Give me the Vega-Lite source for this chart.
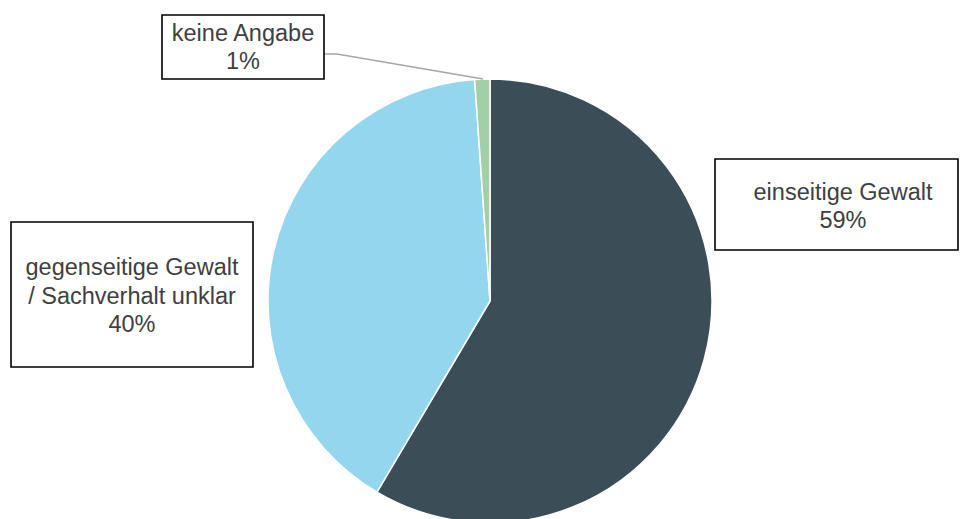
{
  "$schema": "https://vega.github.io/schema/vega-lite/v6.json",
  "width": 960,
  "height": 519,
  "autosize": "none",
  "padding": 0,
  "background": "white",
  "config": {"view": {"stroke": null}},
  "data": {
    "values": [
      {"category": "einseitige Gewalt", "value": 58.5, "label": "einseitige Gewalt\n59%"},
      {"category": "gegenseitige Gewalt / Sachverhalt unklar", "value": 40.4, "label": "gegenseitige Gewalt\n/ Sachverhalt unklar\n40%"},
      {"category": "keine Angabe", "value": 1.1, "label": "keine Angabe\n1%"}
    ]
  },
  "layer": [
    {
      "mark": {"type": "arc", "outerRadius": 222, "x": 490, "y": 301, "stroke": "white", "strokeWidth": 1.5},
      "encoding": {
        "theta": {"field": "value", "type": "quantitative", "stack": true},
        "color": {
          "field": "category",
          "type": "nominal",
          "scale": {
            "domain": ["einseitige Gewalt", "gegenseitige Gewalt / Sachverhalt unklar", "keine Angabe"],
            "range": ["#3b4e58", "#95d6ef", "#a3cfa6"]
          },
          "legend": null
        }
      }
    },
    {
      "mark": {"type": "rule", "stroke": "#a6a6a6", "strokeWidth": 1.5},
      "transform": [{"filter": "datum.category === 'keine Angabe'"}],
      "encoding": {"x": {"value": 324}, "y": {"value": 54}, "x2": {"value": 337}, "y2": {"value": 54}}
    },
    {
      "mark": {"type": "rule", "stroke": "#a6a6a6", "strokeWidth": 1.5},
      "transform": [{"filter": "datum.category === 'keine Angabe'"}],
      "encoding": {"x": {"value": 337}, "y": {"value": 54}, "x2": {"value": 483}, "y2": {"value": 79}}
    },
    {
      "mark": {"type": "rect", "x": 162, "x2": 324, "y": 15, "y2": 79, "fill": "white", "stroke": "#000000", "strokeWidth": 1.6},
      "transform": [{"filter": "datum.category === 'keine Angabe'"}],
      "encoding": {}
    },
    {
      "mark": {"type": "rect", "x": 715, "x2": 958, "y": 159, "y2": 250, "fill": "white", "stroke": "#000000", "strokeWidth": 1.6},
      "transform": [{"filter": "datum.category === 'einseitige Gewalt'"}],
      "encoding": {}
    },
    {
      "mark": {"type": "rect", "x": 11, "x2": 253, "y": 222, "y2": 367, "fill": "white", "stroke": "#000000", "strokeWidth": 1.6},
      "transform": [{"filter": "datum.category === 'gegenseitige Gewalt / Sachverhalt unklar'"}],
      "encoding": {}
    },
    {
      "mark": {"type": "text", "x": 243, "y": 34, "font": "Liberation Sans", "fontSize": 23.5, "lineHeight": 27.5, "lineBreak": "\n", "align": "center", "baseline": "middle", "fill": "#404040"},
      "transform": [{"filter": "datum.category === 'keine Angabe'"}],
      "encoding": {"text": {"field": "label", "type": "nominal"}}
    },
    {
      "mark": {"type": "text", "x": 843, "y": 193, "font": "Liberation Sans", "fontSize": 23.5, "lineHeight": 27.5, "lineBreak": "\n", "align": "center", "baseline": "middle", "fill": "#404040"},
      "transform": [{"filter": "datum.category === 'einseitige Gewalt'"}],
      "encoding": {"text": {"field": "label", "type": "nominal"}}
    },
    {
      "mark": {"type": "text", "x": 132, "y": 268, "font": "Liberation Sans", "fontSize": 23.5, "lineHeight": 28.5, "lineBreak": "\n", "align": "center", "baseline": "middle", "fill": "#404040"},
      "transform": [{"filter": "datum.category === 'gegenseitige Gewalt / Sachverhalt unklar'"}],
      "encoding": {"text": {"field": "label", "type": "nominal"}}
    }
  ]
}
